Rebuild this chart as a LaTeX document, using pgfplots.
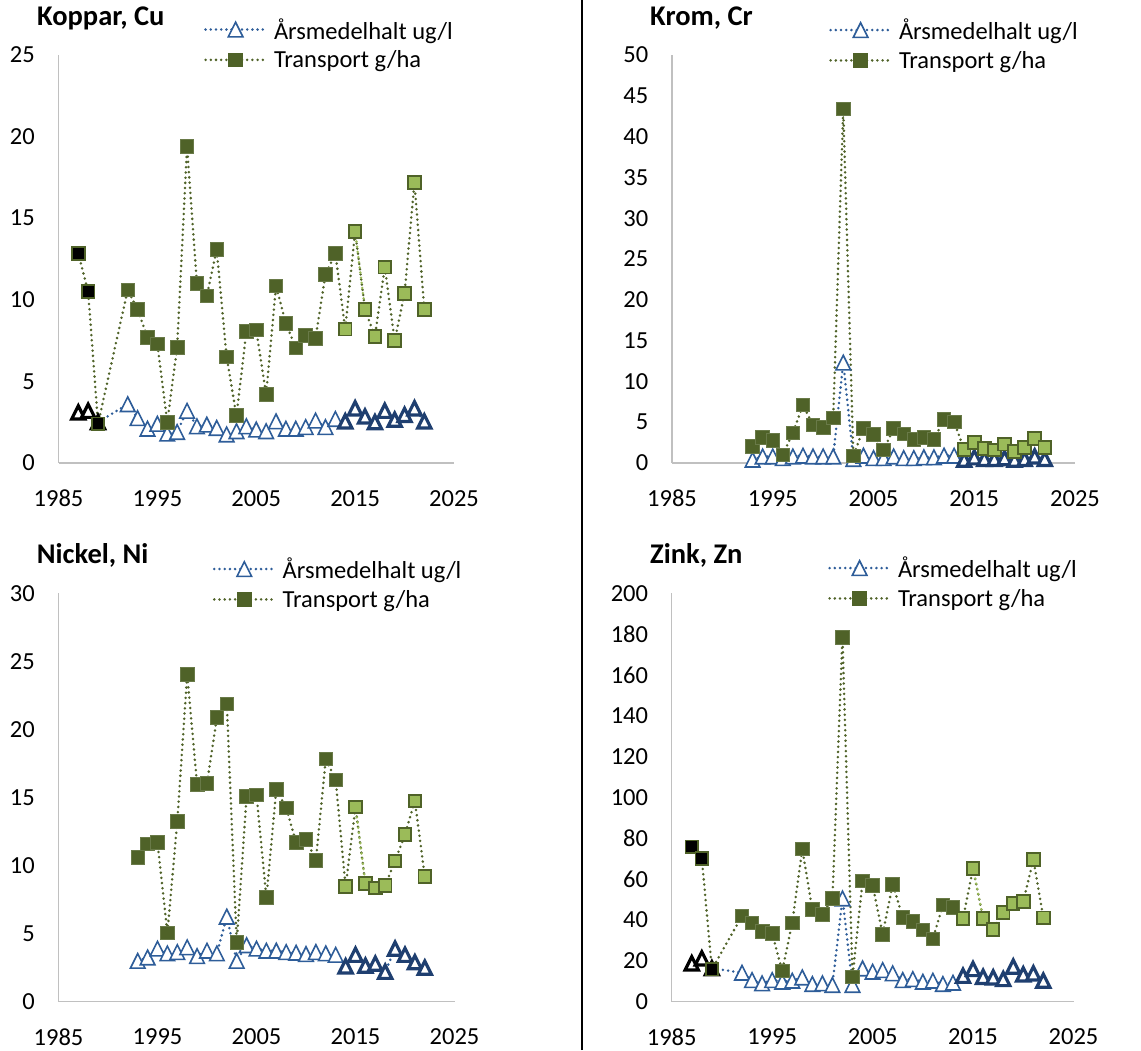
\documentclass[border=0pt]{standalone}
\usepackage{pgfplots}
\pgfplotsset{compat=1.18}
\usepackage{pgfplotstable}
\usepackage{fontspec}
\setmainfont{Carlito}

\definecolor{triblue}{HTML}{2E5D99}
\definecolor{trinavy}{HTML}{1F3F70}
\definecolor{trdark}{HTML}{4F6228}
\definecolor{trlight}{HTML}{9BBB59}
\definecolor{axisgray}{HTML}{C0C0C0}

\newcommand\fs{\fontsize{24.5pt}{29pt}\selectfont}
\newcommand\fst{\fontsize{28.5pt}{33pt}\selectfont}

\pgfdeclareplotmark{xltri}{%
  \pgfpathmoveto{\pgfqpoint{0pt}{\pgfplotmarksize}}%
  \pgfpathlineto{\pgfqpoint{-\pgfplotmarksize}{-\pgfplotmarksize}}%
  \pgfpathlineto{\pgfqpoint{\pgfplotmarksize}{-\pgfplotmarksize}}%
  \pgfpathclose
  \pgfusepathqfillstroke}

\pgfplotstableread{
year c t
1987 3.1 12.85
1988 3.2 10.5
1989 2.5 2.4
1992 3.6 10.6
1993 2.75 9.4
1994 2.1 7.7
1995 2.4 7.3
1996 1.8 2.5
1997 1.9 7.1
1998 3.2 19.4
1999 2.25 11.0
2000 2.35 10.25
2001 2.15 13.1
2002 1.75 6.5
2003 1.95 2.9
2004 2.25 8.05
2005 2.05 8.15
2006 1.95 4.2
2007 2.55 10.85
2008 2.1 8.55
2009 2.1 7.05
2010 2.2 7.8
2011 2.6 7.65
2012 2.2 11.55
2013 2.7 12.85
2014 2.55 8.2
2015 3.35 14.2
2016 2.85 9.4
2017 2.5 7.75
2018 3.2 12.0
2019 2.65 7.5
2020 2.95 10.4
2021 3.35 17.2
2022 2.55 9.4
}\tabcu

\pgfplotstableread{
year c t
1993 0.4 2.0
1994 0.8 3.1
1995 0.8 2.8
1996 0.6 1.0
1997 0.8 3.7
1998 0.9 7.1
1999 0.8 4.65
2000 0.8 4.35
2001 0.8 5.55
2002 12.3 43.4
2003 0.5 0.85
2004 0.9 4.25
2005 0.6 3.5
2006 0.6 1.6
2007 0.8 4.25
2008 0.6 3.55
2009 0.6 2.9
2010 0.7 3.15
2011 0.7 2.9
2012 0.9 5.35
2013 0.9 5.05
2014 0.4 1.65
2015 0.7 2.5
2016 0.5 1.8
2017 0.5 1.6
2018 0.6 2.3
2019 0.4 1.4
2020 0.5 1.9
2021 0.8 3.0
2022 0.5 1.9
}\tabcr

\pgfplotstableread{
year c t
1993 3.0 10.6
1994 3.25 11.6
1995 3.9 11.7
1996 3.55 5.05
1997 3.65 13.25
1998 4.0 24.05
1999 3.35 15.95
2000 3.75 16.05
2001 3.55 20.9
2002 6.25 21.9
2003 3.0 4.35
2004 4.15 15.1
2005 3.9 15.2
2006 3.75 7.65
2007 3.75 15.6
2008 3.65 14.25
2009 3.6 11.7
2010 3.5 11.95
2011 3.65 10.4
2012 3.55 17.85
2013 3.45 16.3
2014 2.6 8.45
2015 3.45 14.3
2016 2.65 8.7
2017 2.8 8.35
2018 2.2 8.55
2019 3.9 10.35
2020 3.45 12.3
2021 2.9 14.75
2022 2.5 9.2
}\tabni

\pgfplotstableread{
year c t
1987 18.8 75.9
1988 21.2 70.2
1989 16.4 15.9
1992 14.2 42.0
1993 10.6 38.7
1994 9.0 34.3
1995 10.6 33.5
1996 9.8 15.0
1997 10.3 38.7
1998 11.9 74.8
1999 8.7 45.2
2000 9.0 42.9
2001 8.2 50.6
2002 50.6 178.6
2003 8.2 12.2
2004 16.3 59.1
2005 14.7 57.1
2006 15.5 33.0
2007 13.9 57.6
2008 10.6 41.3
2009 11.1 39.2
2010 9.8 35.1
2011 10.3 30.7
2012 8.7 47.4
2013 9.3 46.2
2014 12.7 40.8
2015 16.0 65.3
2016 12.2 40.8
2017 11.9 35.4
2018 11.1 43.8
2019 17.2 48.2
2020 13.4 49.0
2021 13.9 69.7
2022 10.3 41.1
}\tabzn

\pgfplotsset{
  legend image code/.code={\draw[mark repeat=2, mark phase=2, #1] plot coordinates {(0pt,0pt) (30pt,0pt) (60pt,0pt)};},
}
\pgfplotsset{
  dotline/.style={line width=2.8pt, dash pattern=on 0pt off 5.2pt, line cap=round, mark=none},
  concline/.style={dotline, color=triblue},
  trline/.style={dotline, color=trdark},
  trlightline/.style={dotline, color=trlight},
  mthin/.style={only marks, mark=xltri, mark size=7.3pt, mark options={solid, fill=white, draw=triblue, line width=1.6pt}},
  mthick/.style={only marks, mark=xltri, mark size=6.6pt, mark options={solid, fill=white, draw=trinavy, line width=3.2pt}},
  mblack/.style={only marks, mark=xltri, mark size=6.6pt, mark options={solid, fill=white, draw=black, line width=3.2pt}},
  sdark/.style={only marks, mark=square*, mark size=6.8pt, mark options={solid, fill=trdark, draw=trdark!85!white, line width=0.8pt}},
  slight/.style={only marks, mark=square*, mark size=6.3pt, mark options={solid, fill=trlight, draw=trdark, line width=1.9pt}},
  sblack/.style={only marks, mark=square*, mark size=6.3pt, mark options={solid, fill=black, draw=trdark, line width=1.9pt}},
  panel/.style={
    scale only axis, anchor=south west,
    xmin=1985, xmax=2025, ymin=0,
    axis lines=left,
    axis line style={-, draw=axisgray, line width=1.4pt},
    major tick length=0pt,
    xtick={1985,1995,2005,2015,2025},
    clip=false,
    tick label style={font=\fs, inner sep=0pt},
    xticklabel style={anchor=north, yshift=-27pt},
    yticklabel style={anchor=east, xshift=-23.5pt},
    /pgf/number format/assume math mode=true,
    /pgf/number format/1000 sep={},
    legend style={draw=none, fill=none, inner sep=0pt, font=\fs, anchor=west, row sep=10pt,
      nodes={inner sep=0pt}, column sep=7pt},
    legend cell align=left,
    title style={anchor=base west, font=\bfseries\fst, inner sep=0pt},
  },
}

\newcommand\legendentries{%
  \addlegendimage{concline, mark=xltri, mark size=7.3pt, mark options={solid, fill=white, draw=triblue, line width=1.6pt}}
  \addlegendentry{Årsmedelhalt ug/l}
  \addlegendimage{trline, mark=square*, mark size=6.8pt, mark options={solid, fill=trdark, draw=trdark, line width=0.8pt}}
  \addlegendentry{Transport g/ha}
}

\begin{document}
\begin{tikzpicture}[x=1pt,y=1pt]
\useasboundingbox (0,0) rectangle (1141,1050);
\draw[black, line width=2pt] (581.7,0) -- (581.7,1050);

% Koppar
\begin{axis}[panel, at={(58.5pt,587pt)}, width=395.5pt, height=408pt, ymax=25, ytick={0,5,...,25},
  title={Koppar, Cu}, title style={at={(-0.0544,1.0571)}}, legend style={at={(0.3679,1.0275)}}]
\legendentries
\addplot[concline, forget plot] table[x=year,y=c]{\tabcu};
\addplot[mblack, forget plot, restrict x to domain=1986:1990] table[x=year,y=c]{\tabcu};
\addplot[mthin, forget plot, restrict x to domain=1991:2013.5] table[x=year,y=c]{\tabcu};
\addplot[mthick, forget plot, restrict x to domain=2013.5:2023] table[x=year,y=c]{\tabcu};
\addplot[trline, forget plot] table[x=year,y=t]{\tabcu};
\addplot[trlightline, forget plot, restrict x to domain=2015:2016] table[x=year,y=t]{\tabcu};
\addplot[sblack, forget plot, restrict x to domain=1986:1990] table[x=year,y=t]{\tabcu};
\addplot[sdark, forget plot, restrict x to domain=1991:2013.5] table[x=year,y=t]{\tabcu};
\addplot[slight, forget plot, restrict x to domain=2013.5:2023] table[x=year,y=t]{\tabcu};
\end{axis}

% Krom
\begin{axis}[panel, at={(672pt,587pt)}, width=403pt, height=408pt, ymax=50, ytick={0,5,...,50},
  title={Krom, Cr}, title style={at={(-0.0546,1.0571)}}, legend style={at={(0.3896,1.0262)}}]
\legendentries
\addplot[concline, forget plot] table[x=year,y=c]{\tabcr};
\addplot[mthin, forget plot, restrict x to domain=1991:2013.5] table[x=year,y=c]{\tabcr};
\addplot[mthick, forget plot, restrict x to domain=2013.5:2023] table[x=year,y=c]{\tabcr};
\addplot[trline, forget plot] table[x=year,y=t]{\tabcr};
\addplot[trlightline, forget plot, restrict x to domain=2015:2016] table[x=year,y=t]{\tabcr};
\addplot[sdark, forget plot, restrict x to domain=1991:2013.5] table[x=year,y=t]{\tabcr};
\addplot[slight, forget plot, restrict x to domain=2013.5:2023] table[x=year,y=t]{\tabcr};
\end{axis}

% Nickel
\begin{axis}[panel, at={(58.5pt,48.3pt)}, width=396pt, height=408.2pt, ymax=30, ytick={0,5,...,30},
  title={Nickel, Ni}, title style={at={(-0.055,1.0576)}}, legend style={at={(0.3894,1.025)}}]
\legendentries
\addplot[concline, forget plot] table[x=year,y=c]{\tabni};
\addplot[mthin, forget plot, restrict x to domain=1991:2013.5] table[x=year,y=c]{\tabni};
\addplot[mthick, forget plot, restrict x to domain=2013.5:2023] table[x=year,y=c]{\tabni};
\addplot[trline, forget plot] table[x=year,y=t]{\tabni};
\addplot[trlightline, forget plot, restrict x to domain=2015:2016] table[x=year,y=t]{\tabni};
\addplot[sdark, forget plot, restrict x to domain=1991:2013.5] table[x=year,y=t]{\tabni};
\addplot[slight, forget plot, restrict x to domain=2013.5:2023] table[x=year,y=t]{\tabni};
\end{axis}

% Zink
\begin{axis}[panel, at={(671.7pt,48.3pt)}, width=401.8pt, height=408.2pt, ymax=200, ytick={0,20,...,200},
  title={Zink, Zn}, title style={at={(-0.054,1.0576)}}, legend style={at={(0.389,1.0274)}}]
\legendentries
\addplot[concline, forget plot] table[x=year,y=c]{\tabzn};
\addplot[mblack, forget plot, restrict x to domain=1986:1990] table[x=year,y=c]{\tabzn};
\addplot[mthin, forget plot, restrict x to domain=1991:2013.5] table[x=year,y=c]{\tabzn};
\addplot[mthick, forget plot, restrict x to domain=2013.5:2023] table[x=year,y=c]{\tabzn};
\addplot[trline, forget plot] table[x=year,y=t]{\tabzn};
\addplot[trlightline, forget plot, restrict x to domain=2015:2016] table[x=year,y=t]{\tabzn};
\addplot[sblack, forget plot, restrict x to domain=1986:1990] table[x=year,y=t]{\tabzn};
\addplot[sdark, forget plot, restrict x to domain=1991:2013.5] table[x=year,y=t]{\tabzn};
\addplot[slight, forget plot, restrict x to domain=2013.5:2023] table[x=year,y=t]{\tabzn};
\end{axis}
\end{tikzpicture}
\end{document}
